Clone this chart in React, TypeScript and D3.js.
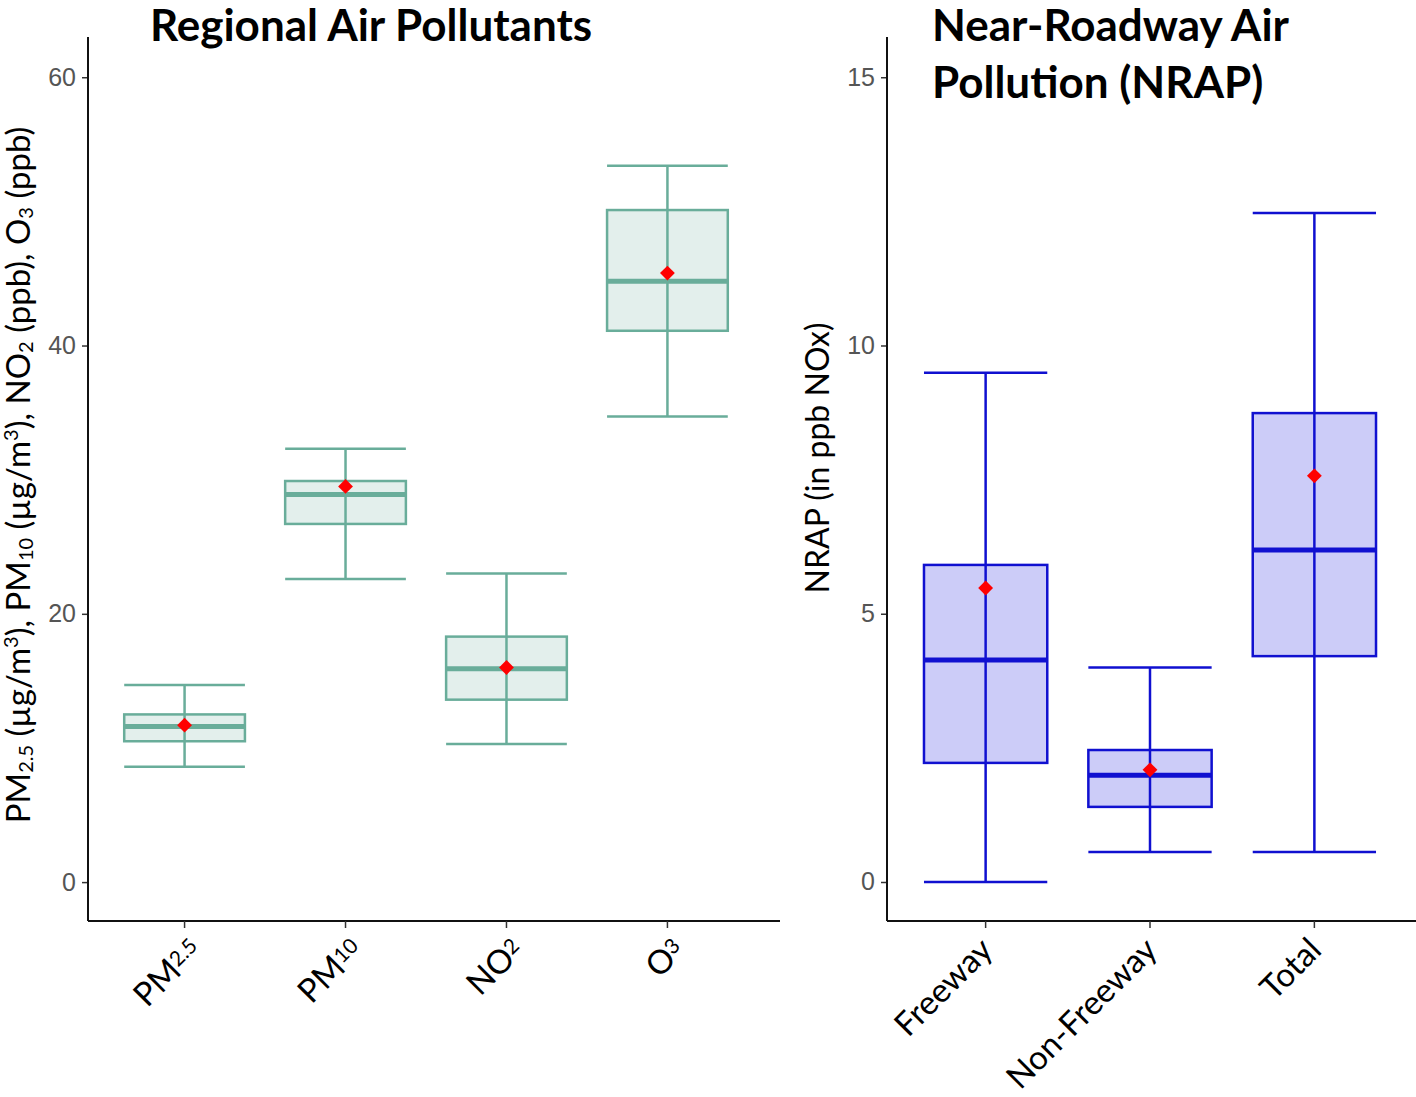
import React, { useEffect, useRef } from 'react';
import * as d3 from 'd3';

// Regional air pollutants (left panel)
const regionalCats = ['PM2.5', 'PM10', 'NO2', 'O3'];
const regionalBase = ['PM', 'PM', 'NO', 'O'];
const regionalSub = ['2.5', '10', '2', '3'];
const regionalLow = [8.6, 22.6, 10.3, 34.7];
const regionalQ1 = [10.5, 26.7, 13.6, 41.1];
const regionalMedian = [11.6, 28.9, 15.9, 44.8];
const regionalQ3 = [12.5, 29.9, 18.3, 50.1];
const regionalHigh = [14.7, 32.3, 23.0, 53.4];
const regionalMean = [11.7, 29.5, 16.0, 45.4];
const regionalTicks = [0, 20, 40, 60];

// Near-roadway air pollution (right panel)
const nrapCats = ['Freeway', 'Non-Freeway', 'Total'];
const nrapLow = [0, 0.56, 0.56];
const nrapQ1 = [2.22, 1.4, 4.21];
const nrapMedian = [4.14, 1.99, 6.19];
const nrapQ3 = [5.91, 2.46, 8.74];
const nrapHigh = [9.49, 4.0, 12.47];
const nrapMean = [5.48, 2.09, 7.57];
const nrapTicks = [0, 5, 10, 15];

const W = 1416;
const H = 1097;
const LABEL_FONT = 'Lato, "Open Sans", sans-serif';

interface Panel {
    cats: string[];
    low: number[]; q1: number[]; med: number[]; q3: number[]; high: number[]; mean: number[];
    ticks: number[];
    yDomain: [number, number];
    left: number; right: number; axisRight: number;
    stroke: string; fill: string;
    labelShift: number;
    tickLabel: (g: any, i: number) => void;
}

const App = () => {
    const svgRef = useRef<SVGSVGElement>(null);

    useEffect(() => {
        const svg = d3.select(svgRef.current);
        svg.selectAll('*').remove();

        const top = 37;
        const bottom = 921;

        const drawPanel = (p: Panel) => {
            const y = d3.scaleLinear().domain(p.yDomain).range([bottom, top]);
            const x = d3.scaleBand().domain(p.cats).range([p.left, p.right])
                .paddingInner(0).paddingOuter(0.1);
            const bw = x.bandwidth() * 0.75;
            const cx = (c: string) => (x(c) as number) + x.bandwidth() / 2;
            const g = svg.append('g');

            p.cats.forEach((c, i) => {
                const xc = cx(c);
                // box
                g.append('rect')
                    .attr('x', xc - bw / 2).attr('width', bw)
                    .attr('y', y(p.q3[i])).attr('height', y(p.q1[i]) - y(p.q3[i]))
                    .attr('fill', p.fill).attr('stroke', p.stroke).attr('stroke-width', 2.5);
                // whisker line through box
                g.append('line')
                    .attr('x1', xc).attr('x2', xc)
                    .attr('y1', y(p.low[i])).attr('y2', y(p.high[i]))
                    .attr('stroke', p.stroke).attr('stroke-width', 2.5);
                // caps
                [p.low[i], p.high[i]].forEach(v => {
                    g.append('line')
                        .attr('x1', xc - bw / 2).attr('x2', xc + bw / 2)
                        .attr('y1', y(v)).attr('y2', y(v))
                        .attr('stroke', p.stroke).attr('stroke-width', 2.5);
                });
                // median
                g.append('line')
                    .attr('x1', xc - bw / 2).attr('x2', xc + bw / 2)
                    .attr('y1', y(p.med[i])).attr('y2', y(p.med[i]))
                    .attr('stroke', p.stroke).attr('stroke-width', 5);
                // mean diamond
                g.append('path')
                    .attr('d', d3.symbol(d3.symbolDiamond2, 140)() as string)
                    .attr('transform', `translate(${xc},${y(p.mean[i])})`)
                    .attr('fill', '#ff0000');
            });

            // y axis
            const yAxis = g.append('g')
                .attr('transform', `translate(${p.left},0)`)
                .call(d3.axisLeft(y).tickValues(p.ticks).tickSize(6).tickPadding(6));
            yAxis.select('.domain').remove();
            yAxis.selectAll('line').attr('stroke', '#333').attr('stroke-width', 1.5);
            yAxis.selectAll('text')
                .attr('fill', '#555')
                .style('font-family', '"Liberation Sans", Arial, sans-serif')
                .style('font-size', '25px');
            g.append('line')
                .attr('x1', p.left).attr('x2', p.left).attr('y1', top).attr('y2', bottom)
                .attr('stroke', '#111').attr('stroke-width', 2);

            // x axis
            g.append('line')
                .attr('x1', p.left).attr('x2', p.axisRight).attr('y1', bottom).attr('y2', bottom)
                .attr('stroke', '#111').attr('stroke-width', 2);
            p.cats.forEach((c, i) => {
                const xc = cx(c);
                g.append('line')
                    .attr('x1', xc).attr('x2', xc).attr('y1', bottom).attr('y2', bottom + 7)
                    .attr('stroke', '#333').attr('stroke-width', 1.5);
                const t = g.append('text')
                    .attr('transform', `translate(${xc + p.labelShift},${bottom + 31}) rotate(-45)`)
                    .attr('text-anchor', 'end')
                    .style('font-family', LABEL_FONT)
                    .style('font-size', '33px')
                    .attr('fill', '#000');
                p.tickLabel(t, i);
            });
        };

        drawPanel({
            cats: regionalCats,
            low: regionalLow, q1: regionalQ1, med: regionalMedian, q3: regionalQ3,
            high: regionalHigh, mean: regionalMean,
            ticks: regionalTicks,
            yDomain: [-2.9, 63],
            left: 88, right: 764, axisRight: 780,
            stroke: '#69ad9a', fill: '#e3efec',
            labelShift: 19,
            tickLabel: (t, i) => {
                t.append('tspan').text(regionalBase[i]);
                t.append('tspan').attr('font-size', '21px').attr('dy', '-7').text(regionalSub[i]);
            },
        });

        drawPanel({
            cats: nrapCats,
            low: nrapLow, q1: nrapQ1, med: nrapMedian, q3: nrapQ3,
            high: nrapHigh, mean: nrapMean,
            ticks: nrapTicks,
            yDomain: [-0.727, 15.75],
            left: 887, right: 1413, axisRight: 1416,
            stroke: '#1010d0', fill: '#ccccf8',
            labelShift: 9,
            tickLabel: (t, i) => { t.text(nrapCats[i]); },
        });

        // titles
        svg.append('text')
            .attr('x', 371).attr('y', 41)
            .attr('text-anchor', 'middle')
            .style('font-family', LABEL_FONT).style('font-weight', 700).style('font-size', '44px')
            .text('Regional Air Pollutants');
        const t2 = svg.append('text')
            .attr('x', 932).attr('y', 41)
            .style('font-family', LABEL_FONT).style('font-weight', 700).style('font-size', '44px');
        t2.append('tspan').attr('x', 932).text('Near-Roadway Air');
        t2.append('tspan').attr('x', 932).attr('dy', 57).text('Pollution (NRAP)');

        // y axis titles
        const yl = svg.append('text')
            .attr('transform', 'translate(30,475) rotate(-90)')
            .attr('text-anchor', 'middle')
            .style('font-family', LABEL_FONT).style('font-size', '33px');
        const parts: [string, string | null][] = [
            ['PM', null], ['2.5', 'sub'], [' (µg/m', null], ['3', 'sup'],
            ['), PM', null], ['10', 'sub'], [' (µg/m', null], ['3', 'sup'],
            ['), NO', null], ['2', 'sub'], [' (ppb), O', null], ['3', 'sub'], [' (ppb)', null],
        ];
        let shift = 0;
        parts.forEach(([s, kind]) => {
            const target = kind === 'sub' ? 3 : kind === 'sup' ? -12 : 0;
            const sp = yl.append('tspan').attr('dy', target - shift).text(s);
            if (kind) sp.attr('font-size', '20px');
            shift = target;
        });

        svg.append('text')
            .attr('transform', 'translate(829,458) rotate(-90)')
            .attr('text-anchor', 'middle')
            .style('font-family', LABEL_FONT).style('font-size', '32px')
            .text('NRAP (in ppb NOx)');
    }, []);

    return (
        <svg ref={svgRef} width={W} height={H}
            style={{ position: 'absolute', left: 0, top: 0, background: '#fff' }} />
    );
};

export default App;
